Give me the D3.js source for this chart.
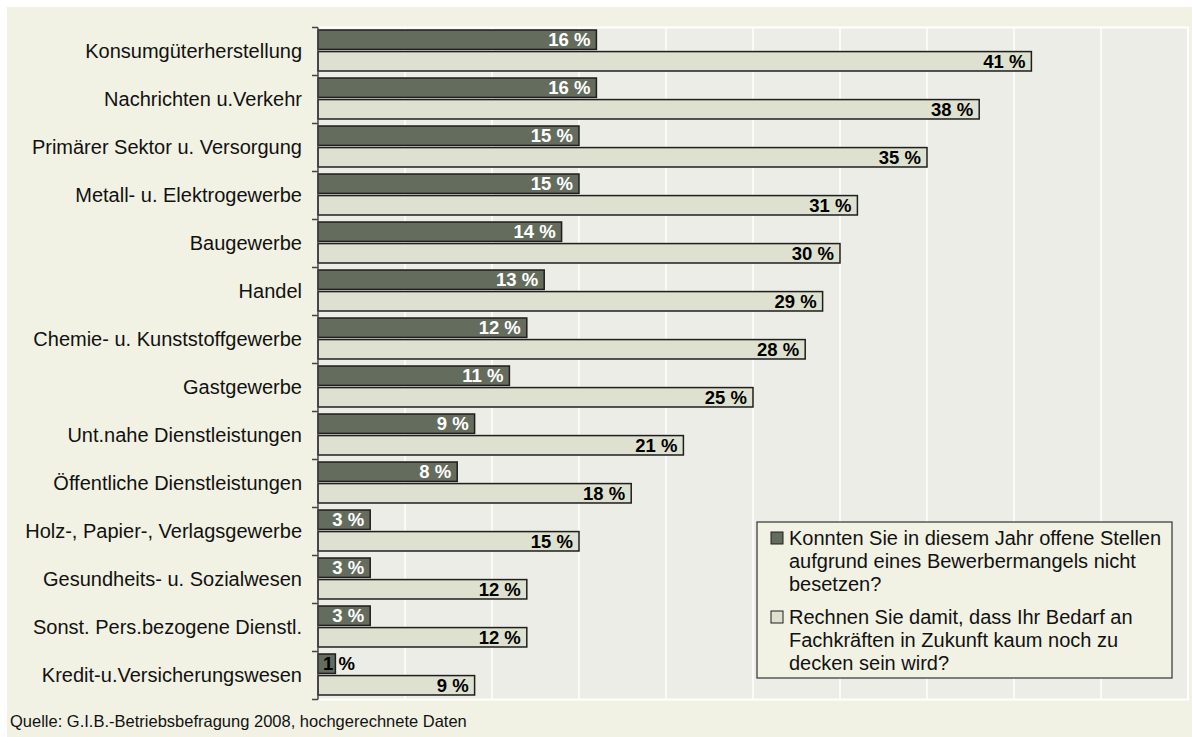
<!DOCTYPE html>
<html>
<head>
<meta charset="utf-8">
<script src="https://cdn.jsdelivr.net/npm/d3@7"></script>
<style>
  html, body { margin: 0; padding: 0; background: #ffffff; }
  svg { display: block; font-family: "Liberation Sans", Arial, sans-serif; }
</style>
</head>
<body>
<svg id="chart" width="1192" height="737"></svg>
<script>
// Branchen (top to bottom)
const categories = [
  "Konsumgüterherstellung",
  "Nachrichten u.Verkehr",
  "Primärer Sektor u. Versorgung",
  "Metall- u. Elektrogewerbe",
  "Baugewerbe",
  "Handel",
  "Chemie- u. Kunststoffgewerbe",
  "Gastgewerbe",
  "Unt.nahe Dienstleistungen",
  "Öffentliche Dienstleistungen",
  "Holz-, Papier-, Verlagsgewerbe",
  "Gesundheits- u. Sozialwesen",
  "Sonst. Pers.bezogene Dienstl.",
  "Kredit-u.Versicherungswesen"
];

// Offene Stellen wegen Bewerbermangel nicht besetzt (%)
const offeneStellen = [16, 16, 15, 15, 14, 13, 12, 11, 9, 8, 3, 3, 3, 1];

// Künftiger Fachkräftebedarf kaum zu decken (%)
const kuenftigerBedarf = [41, 38, 35, 31, 30, 29, 28, 25, 21, 18, 15, 12, 12, 9];

const seriesNames = [
  ["Konnten Sie in diesem Jahr offene Stellen", "aufgrund eines Bewerbermangels nicht", "besetzen?"],
  ["Rechnen Sie damit, dass Ihr Bedarf an", "Fachkräften in Zukunft kaum noch zu", "decken sein wird?"]
];

const xTicks = [0, 5, 10, 15, 20, 25, 30, 35, 40, 45, 50];
const sourceText = "Quelle: G.I.B.-Betriebsbefragung 2008, hochgerechnete Daten";

const colors = { dark: "#646d5d", light: "#dee1d0", plot: "#ebede6", outer: "#f2f2e4", edge: "#1e1e1e" };

const svg = d3.select("#chart");
const W = 1192, H = 737;
const plot = { left: 318, right: 1188, top: 27.5, bottom: 699.5 };

// outer background
svg.append("rect").attr("x", 7).attr("y", 7).attr("width", W - 7).attr("height", H - 7)
  .attr("fill", colors.outer);

const x = d3.scaleLinear().domain([0, 50]).range([plot.left, plot.right]);
const y = d3.scaleBand().domain(categories).range([plot.top - 1, plot.bottom - 1])
  .paddingInner(0.146).paddingOuter(0.073);
const ySub = d3.scaleBand().domain([0, 1]).range([0, y.bandwidth()]).paddingInner(0.1);

// plot area
svg.append("rect")
  .attr("x", plot.left).attr("y", plot.top)
  .attr("width", plot.right - plot.left).attr("height", plot.bottom - plot.top)
  .attr("fill", colors.plot).attr("stroke", "#ffffff").attr("stroke-width", 2);

// vertical gridlines
svg.append("g").selectAll("line").data(xTicks.slice(1, -1)).join("line")
  .attr("x1", d => x(d)).attr("x2", d => x(d))
  .attr("y1", plot.top).attr("y2", plot.bottom)
  .attr("stroke", "#ffffff").attr("stroke-width", 1.5);

// bars
const rows = categories.map((c, i) => ({ c, vals: [offeneStellen[i], kuenftigerBedarf[i]] }));
const groups = svg.append("g").selectAll("g").data(rows).join("g")
  .attr("transform", d => `translate(0,${y(d.c)})`);

groups.selectAll("rect").data(d => d.vals.map((v, k) => ({ v, k }))).join("rect")
  .attr("x", x(0))
  .attr("y", d => ySub(d.k))
  .attr("width", d => x(d.v) - x(0))
  .attr("height", ySub.bandwidth())
  .attr("fill", d => d.k === 0 ? colors.dark : colors.light)
  .attr("stroke", colors.edge).attr("stroke-width", 1.5);

// value labels
groups.selectAll("text").data(d => d.vals.map((v, k) => ({ v, k }))).join("text")
  .each(function (d) {
    const t = d3.select(this);
    const w = x(d.v) - x(0);
    const fits = w > 30;
    t.attr("x", fits ? x(d.v) - 6 : x(0) + 5)
      .attr("text-anchor", fits ? "end" : "start")
      .attr("fill", d.k === 0 && fits ? "#ffffff" : "#000000");
  })
  .attr("y", d => ySub(d.k) + ySub.bandwidth() / 2)
  .attr("dy", "0.36em")
  .attr("font-size", 18.5).attr("font-weight", "bold")
  .text(d => `${d.v} %`);

// category axis
const yAxis = d3.axisLeft(y).tickSize(0).tickPadding(16);
const ax = svg.append("g").attr("transform", `translate(${plot.left},1)`).call(yAxis);
ax.select(".domain").attr("stroke", "#444").attr("stroke-width", 1.5).attr("d", `M0,${plot.top - 1}V${plot.bottom - 1}`);
ax.selectAll(".tick text").attr("font-size", 20).attr("fill", "#111")
  .attr("font-family", "Liberation Sans, Arial, sans-serif");
// boundary tick marks between categories
const bounds = d3.range(categories.length + 1).map(i => plot.top + i * y.step());
svg.append("g").selectAll("line").data(bounds).join("line")
  .attr("x1", plot.left - 6).attr("x2", plot.left)
  .attr("y1", d => d).attr("y2", d => d)
  .attr("stroke", "#444").attr("stroke-width", 1.5);

// legend
const lg = svg.append("g");
lg.append("rect").attr("x", 757).attr("y", 522).attr("width", 415).attr("height", 156)
  .attr("fill", colors.outer).attr("stroke", "#333").attr("stroke-width", 1.2);
seriesNames.forEach((lines, k) => {
  const top = 538 + k * 79;
  lg.append("rect").attr("x", 771).attr("y", top - 6).attr("width", 12).attr("height", 12)
    .attr("fill", k === 0 ? colors.dark : colors.light).attr("stroke", colors.edge).attr("stroke-width", 1);
  lines.forEach((ln, j) => {
    lg.append("text").attr("x", 789).attr("y", top + j * 23).attr("dy", "0.36em")
      .attr("font-size", 20).attr("fill", "#111").text(ln);
  });
});

// source note
svg.append("text").attr("x", 10).attr("y", 727).attr("font-size", 16.5).attr("fill", "#111")
  .text(sourceText);
</script>
</body>
</html>
